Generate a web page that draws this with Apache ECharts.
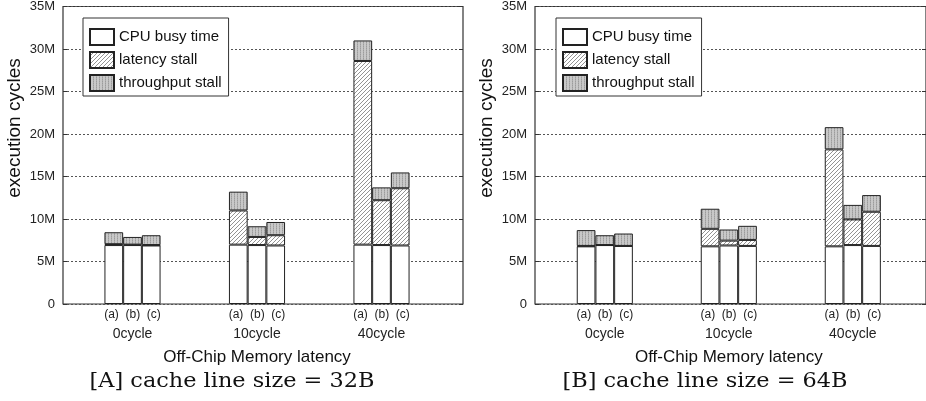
<!DOCTYPE html>
<html>
<head>
<meta charset="utf-8">
<script src="https://cdn.jsdelivr.net/npm/echarts@6/dist/echarts.min.js"></script>
<style>
html, body { margin: 0; padding: 0; background: #fff; }
#main { width: 926px; height: 401px; }
</style>
</head>
<body>
<div id="main"></div>
<script>
// data, in millions of cycles
var groups = ["0cycle", "10cycle", "40cycle"];
var variants = ["a", "b", "c"];
var yTicks = [0, 5, 10, 15, 20, 25, 30, 35];
var legendNames = ["CPU busy time", "latency stall", "throughput stall"];

// [A] cache line size = 32B
var busy32a = [6.9, 6.95, 6.95];
var lat32a = [0.1, 4.0, 21.5];
var thr32a = [1.4, 2.2, 2.4];
var busy32b = [6.9, 6.9, 6.9];
var lat32b = [0.05, 0.95, 5.25];
var thr32b = [0.9, 1.25, 1.5];
var busy32c = [6.85, 6.85, 6.85];
var lat32c = [0.05, 1.2, 6.7];
var thr32c = [1.15, 1.55, 1.85];

// [B] cache line size = 64B
var busy64a = [6.75, 6.75, 6.75];
var lat64a = [0.05, 2.05, 11.35];
var thr64a = [1.85, 2.35, 2.6];
var busy64b = [6.9, 6.85, 6.9];
var lat64b = [0.0, 0.57, 3.0];
var thr64b = [1.15, 1.3, 1.7];
var busy64c = [6.8, 6.8, 6.8];
var lat64c = [0.0, 0.7, 4.0];
var thr64c = [1.45, 1.65, 1.95];

/****** fill patterns ******/
function hatchPattern(){
    var c = document.createElement("canvas");
    c.width = 4; c.height = 4;
    var ctx = c.getContext("2d");
    ctx.fillStyle = "#fff";
    ctx.fillRect(0, 0, 4, 4);
    ctx.strokeStyle = "#777";
    ctx.lineWidth = 0.8;
    ctx.beginPath();
    ctx.moveTo(0, 4); ctx.lineTo(4, 0);
    ctx.moveTo(-1, 1); ctx.lineTo(1, -1);
    ctx.moveTo(3, 5); ctx.lineTo(5, 3);
    ctx.stroke();
    return {image: c, repeat: "repeat"};
}

function grayPattern(){
    var c = document.createElement("canvas");
    c.width = 3; c.height = 2;
    var ctx = c.getContext("2d");
    ctx.fillStyle = "#c8c8c8";
    ctx.fillRect(0, 0, 3, 2);
    ctx.fillStyle = "#9c9c9c";
    ctx.fillRect(0, 0, 1, 1);
    ctx.fillStyle = "#adadad";
    ctx.fillRect(0, 1, 1, 1);
    return {image: c, repeat: "repeat"};
}

var fills = ["#fff", hatchPattern(), grayPattern()];

var myChart = echarts.init(document.getElementById("main"));

var frames = [
    {left: 63, width: 400, legendLeft: 83},
    {left: 535, width: 393, legendLeft: 556}
];
var barGrids = [
    {left: 70.25, width: 373.5},
    {left: 542.8, width: 372}
];
var chartData = [
    [[busy32a, lat32a, thr32a], [busy32b, lat32b, thr32b], [busy32c, lat32c, thr32c]],
    [[busy64a, lat64a, thr64a], [busy64b, lat64b, thr64b], [busy64c, lat64c, thr64c]]
];

var grid = [], xAxis = [], yAxis = [], series = [], legend = [];

$each = function(arr, fn){ for (var i = 0; i < arr.length; i++) fn(i, arr[i]); };

$each(frames, function(k, f){
    // frame grid with y ticks and dotted lines
    grid.push({left: f.left, width: f.width, top: 5, bottom: 97, show: true,
        borderColor: "#333", borderWidth: 1.2, backgroundColor: "transparent"});
    // bars grid
    grid.push({left: barGrids[k].left, width: barGrids[k].width, top: 5, bottom: 97});

    var fg = k * 2, bg = k * 2 + 1;

    xAxis.push({gridIndex: fg, type: "value", show: false, min: 0, max: 1});
    xAxis.push({
        gridIndex: bg, type: "category", data: groups,
        axisLine: {show: false}, axisTick: {show: false},
        axisLabel: {
            margin: 4,
            formatter: function(v){ return "{s|(a)  (b)  (c)}\n{g|" + v + "}"; },
            rich: {
                s: {fontSize: 12, lineHeight: 14, color: "#222", fontFamily: "Liberation Sans"},
                g: {fontSize: 14, lineHeight: 24, color: "#222", fontFamily: "Liberation Sans"}
            }
        },
        name: "Off-Chip Memory latency", nameLocation: "middle", nameGap: 45,
        nameTextStyle: {fontSize: 17, color: "#111", fontFamily: "Liberation Sans"}
    });

    yAxis.push({
        gridIndex: fg, type: "value", min: 0, max: 35, interval: 5,
        axisLine: {show: false},
        axisTick: {show: true, inside: true, length: 4, lineStyle: {color: "#333"}},
        axisLabel: {margin: 8, fontSize: 13, color: "#222", fontFamily: "Liberation Sans",
            formatter: function(v){ return v === 0 ? "0" : v + "M"; }},
        splitLine: {show: true, lineStyle: {color: "#555", type: [2, 2], width: 1}}
    });
    yAxis.push({
        gridIndex: fg, type: "value", min: 0, max: 35, interval: 5, position: "right",
        axisLine: {show: false}, axisLabel: {show: false}, splitLine: {show: false},
        axisTick: {show: true, inside: true, length: 4, lineStyle: {color: "#333"}}
    });
    yAxis.push({gridIndex: bg, type: "value", min: 0, max: 35, show: false});

    var yIdx = k * 3 + 2;
    $each(variants, function(vi, v){
        $each(legendNames, function(li, name){
            series.push({
                name: name, type: "bar", xAxisIndex: bg, yAxisIndex: yIdx,
                stack: "s" + k + v, barWidth: 18.7, barGap: "0%",
                data: chartData[k][vi][li],
                itemStyle: {color: fills[li], borderColor: "#222", borderWidth: 1},
                emphasis: {disabled: true}
            });
        });
    });

    legend.push({
        data: legendNames, orient: "vertical", left: f.legendLeft, top: 18,
        itemWidth: 24, itemHeight: 16, itemGap: 5, icon: "rect",
        padding: [10, 7, 4, 6], backgroundColor: "#fff",
        borderColor: "#333", borderWidth: 1, z: 10, selectedMode: false,
        textStyle: {fontSize: 15, color: "#111", fontFamily: "Liberation Sans"}
    });
});

var option = {
    animation: false,
    grid: grid,
    xAxis: xAxis,
    yAxis: yAxis,
    legend: legend,
    series: series,
    graphic: [
        {type: "text", x: 15, y: 128, rotation: Math.PI / 2,
            style: {text: "execution cycles", fontSize: 19, fill: "#111", fontFamily: "Liberation Sans",
                align: "center", verticalAlign: "middle"}},
        {type: "text", x: 487, y: 128, rotation: Math.PI / 2,
            style: {text: "execution cycles", fontSize: 19, fill: "#111", fontFamily: "Liberation Sans",
                align: "center", verticalAlign: "middle"}},
        {type: "text", x: 232, y: 382, scaleX: 1.12,
            style: {text: "[A] cache line size = 32B", fontSize: 20, fill: "#111", fontFamily: "DejaVu Serif",
                align: "center", verticalAlign: "middle"}},
        {type: "text", x: 705, y: 382, scaleX: 1.12,
            style: {text: "[B] cache line size = 64B", fontSize: 20, fill: "#111", fontFamily: "DejaVu Serif",
                align: "center", verticalAlign: "middle"}}
    ]
};

myChart.setOption(option);
</script>
</body>
</html>
